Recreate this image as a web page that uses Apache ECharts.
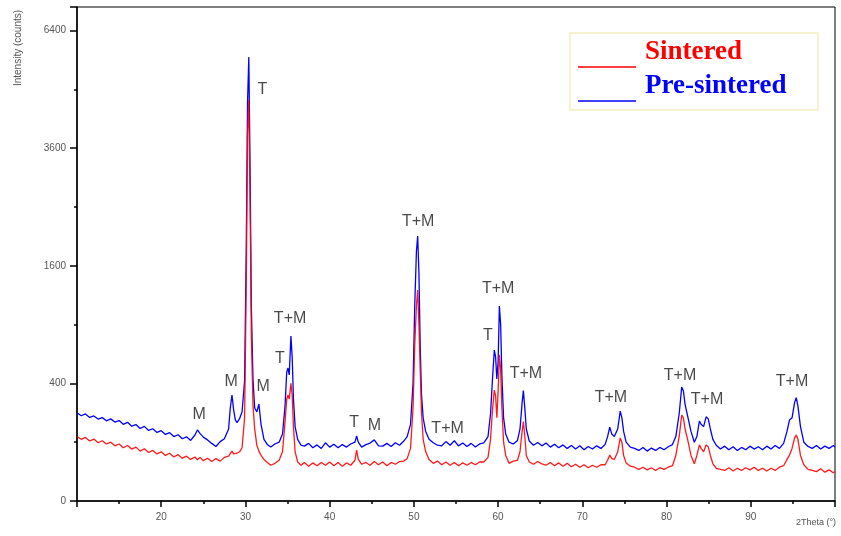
<!DOCTYPE html>
<html>
<head>
<meta charset="utf-8">
<script src="https://cdn.jsdelivr.net/npm/echarts@6/dist/echarts.min.js"></script>
<style>
  html, body { margin: 0; padding: 0; background: #fff; }
  #xrd { width: 841px; height: 536px; }
</style>
</head>
<body>
<div id="xrd"></div>
<script>
// 2theta positions (deg)
var twoTheta = [
    10, 10.5, 11, 11.5, 12, 12.5, 13, 13.5, 14, 14.5,
    15, 15.5, 16, 16.5, 17, 17.5, 18, 18.5, 19, 19.5,
    20, 20.5, 21, 21.5, 22, 22.5, 23, 23.5, 24, 24.3,
    24.6, 25, 25.5, 26, 26.5, 27, 27.5, 28, 28.2, 28.4,
    28.6, 28.8, 29, 29.3, 29.6, 29.9, 30.1, 30.25, 30.4, 30.55,
    30.7, 30.9, 31.1, 31.35, 31.6, 31.85, 32.2, 32.6, 33, 33.5,
    34, 34.4, 34.7, 34.9, 35.05, 35.2, 35.4, 35.55, 35.7, 35.9,
    36.2, 36.6, 37, 37.5, 38, 38.5, 39, 39.5, 40, 40.5,
    41, 41.5, 42, 42.5, 43, 43.2, 43.4, 43.8, 44.3, 44.8,
    45.3, 45.8, 46.3, 46.8, 47.3, 47.8, 48.3, 48.8, 49.2, 49.6,
    49.9, 50.1, 50.3, 50.45, 50.6, 50.75, 50.9, 51.1, 51.4, 51.8,
    52.3, 52.8, 53.3, 53.8, 54.3, 54.8, 55.3, 55.8, 56.3, 56.8,
    57.3, 57.8, 58.3, 58.8, 59.1, 59.35, 59.55, 59.7, 59.85, 60.0,
    60.15, 60.3, 60.45, 60.65, 60.9, 61.3, 61.8, 62.3, 62.6, 62.85,
    63.0, 63.15, 63.35, 63.7, 64.2, 64.7, 65.2, 65.7, 66.2, 66.7,
    67.2, 67.7, 68.2, 68.7, 69.2, 69.7, 70.2, 70.7, 71.2, 71.7,
    72.2, 72.7, 73.0, 73.25, 73.5, 73.8, 74.2, 74.5, 74.7, 74.9,
    75.2, 75.7, 76.2, 76.7, 77.2, 77.7, 78.2, 78.7, 79.2, 79.7,
    80.2, 80.7, 81.1, 81.5, 81.8, 82.0, 82.2, 82.5, 82.9, 83.3,
    83.6, 83.9, 84.1, 84.4, 84.7, 84.95, 85.2, 85.5, 85.9, 86.4,
    86.9, 87.4, 87.9, 88.4, 88.9, 89.4, 89.9, 90.4, 90.9, 91.4,
    91.9, 92.4, 92.9, 93.4, 93.9, 94.3, 94.6, 94.9, 95.2, 95.4,
    95.6, 95.9, 96.3, 96.8, 97.3, 97.8, 98.3, 98.8, 99.3, 99.8,
    100
];

// intensity (counts), pre-sintered
var preSintered = [
    225, 210, 219, 202, 209, 194, 201, 186, 195, 180,
    187, 170, 179, 162, 169, 152, 161, 144, 151, 136,
    143, 128, 135, 120, 127, 112, 119, 106, 126, 146,
    132, 118, 108, 96, 86, 102, 112, 150, 250, 325,
    240, 190, 178, 196, 230, 420, 1900, 4600, 5700, 3200,
    1100, 420, 250, 230, 272, 170, 110, 92, 84, 94,
    100, 130, 260, 480, 511, 460, 787, 600, 300, 160,
    110, 90, 87, 96, 82, 91, 80, 98, 84, 93,
    82, 92, 84, 94, 100, 122, 100, 84, 92, 97,
    108, 88, 87, 96, 86, 98, 90, 104, 120, 170,
    400, 1100, 1800, 2031, 1500, 700, 330, 200, 140, 110,
    98, 90, 88, 102, 90, 105, 88, 97, 86, 96,
    84, 94, 98, 120, 220, 450, 659, 600, 430, 560,
    1100, 900, 450, 200, 130, 100, 94, 106, 150, 280,
    352, 260, 150, 104, 90, 99, 88, 97, 84, 93,
    82, 91, 80, 89, 78, 88, 76, 86, 78, 88,
    80, 92, 120, 158, 130, 120, 150, 234, 200, 140,
    100, 84, 80, 74, 83, 72, 81, 74, 83, 76,
    85, 92, 120, 220, 376, 350, 270, 210, 140, 100,
    120, 185, 170, 160, 205, 195, 150, 110, 90, 78,
    87, 76, 85, 74, 83, 76, 87, 78, 85, 76,
    87, 78, 89, 80, 96, 140, 190, 200, 280, 309,
    260, 160, 100, 86, 80, 89, 78, 87, 80, 89,
    84
];

// intensity (counts), sintered
var sintered = [
    120, 110, 117, 104, 111, 98, 105, 94, 100, 88,
    94, 82, 89, 78, 84, 72, 79, 68, 74, 64,
    70, 60, 66, 56, 62, 53, 58, 50, 56, 49,
    55, 47, 53, 45, 52, 46, 55, 58, 62, 72,
    64, 60, 66, 70, 82, 200, 1400, 3900, 4650, 2600,
    800, 260, 150, 90, 72, 60, 50, 43, 37, 41,
    48, 70, 180, 300, 325, 300, 400, 320, 160, 70,
    44, 37, 43, 35, 42, 36, 43, 37, 44, 36,
    43, 35, 42, 37, 48, 75, 50, 39, 43, 37,
    45, 38, 44, 36, 43, 39, 45, 46, 52, 80,
    250, 700, 1100, 1288, 900, 500, 230, 110, 70, 50,
    41, 46, 38, 44, 37, 43, 36, 42, 37, 43,
    38, 44, 44, 55, 110, 250, 356, 320, 200, 350,
    617, 500, 250, 100, 60, 41, 46, 48, 70, 140,
    182, 130, 60, 44, 39, 45, 40, 37, 43, 36,
    42, 35, 41, 34, 39, 33, 38, 32, 37, 33,
    38, 38, 48, 61, 52, 50, 70, 115, 100, 60,
    42, 35, 33, 29, 33, 28, 32, 27, 32, 29,
    33, 36, 60, 120, 214, 200, 150, 110, 60, 40,
    60, 91, 80, 70, 91, 85, 60, 40, 31, 29,
    27, 32, 26, 31, 27, 32, 28, 33, 27, 31,
    26, 31, 27, 33, 36, 50, 61, 80, 115, 126,
    110, 60, 38, 29, 27, 25, 30, 24, 28, 23,
    25
];

// phase labels: where they sit and what they say
var phaseTheta = [24.5, 28.3, 32.1, 32.0, 34.1, 35.3, 42.9, 45.3, 50.5, 54.0, 58.8, 60.0, 63.3, 73.4, 81.6, 84.8, 94.9];
var phaseCounts = [214, 410, 376, 4886, 583, 958, 180, 163, 2251, 150, 787, 1300, 467, 307, 452, 295, 410];
var phaseText = ['M', 'M', 'M', 'T', 'T', 'T+M', 'T', 'M', 'T+M', 'T+M', 'T', 'T+M', 'T+M', 'T+M', 'T+M', 'T+M', 'T+M'];

var yTicks = [0, 400, 1600, 3600, 6400];

// the y axis is square-root scaled
function toAxis(count) { return Math.sqrt(count); }

var chart = echarts.init(document.getElementById('xrd'));

var preData = twoTheta.map(function (t, i) { return [t, toAxis(preSintered[i])]; });
var sinData = twoTheta.map(function (t, i) { return [t, toAxis(sintered[i])]; });
var labelData = phaseTheta.map(function (t, i) { return [t, toAxis(phaseCounts[i]), phaseText[i]]; });

var option = {
    animation: false,
    grid: {
        left: 77, right: 6, top: 7, bottom: 35,
        show: true, borderColor: '#000', borderWidth: 1
    },
    xAxis: {
        type: 'value',
        min: 10, max: 100, interval: 10,
        axisLine: { lineStyle: { color: '#000', width: 1.5 } },
        axisTick: { length: 6, lineStyle: { color: '#000', width: 1.5 } },
        minorTick: { show: true, splitNumber: 2, length: 3, lineStyle: { color: '#000', width: 1.5 } },
        splitLine: { show: false },
        axisLabel: {
            margin: 11, fontSize: 10, color: '#555', fontFamily: 'Liberation Sans',
            formatter: function (v) { return (v === 10 || v === 100) ? '' : String(v); }
        }
    },
    yAxis: {
        type: 'value',
        min: 0, max: 84, interval: 20,
        axisLine: { lineStyle: { color: '#000', width: 1.5 } },
        axisTick: { length: 7, lineStyle: { color: '#000', width: 1.5 } },
        minorTick: { show: true, splitNumber: 2, length: 3, lineStyle: { color: '#000', width: 1.5 } },
        splitLine: { show: false },
        axisLabel: {
            margin: 11, fontSize: 10, color: '#555', fontFamily: 'Liberation Sans',
            formatter: function (v) {
                var c = Math.round(v * v);
                return yTicks.indexOf(c) >= 0 ? String(c) : '';
            }
        }
    },
    series: [
        {
            name: 'Pre-sintered', type: 'line', data: preData,
            showSymbol: false, symbol: 'none',
            lineStyle: { color: '#0000ff', width: 1.3 }
        },
        {
            name: 'Sintered', type: 'line', data: sinData,
            showSymbol: false, symbol: 'none',
            lineStyle: { color: '#ff0000', width: 1.3, opacity: 0.9 }
        },
        {
            type: 'scatter', data: labelData, symbolSize: 1,
            itemStyle: { color: 'rgba(0,0,0,0)' },
            label: {
                show: true, position: 'inside',
                fontSize: 16, color: '#1a1a1a', fontFamily: 'Liberation Sans',
                formatter: function (p) { return p.data[2]; }
            },
            z: 5
        }
    ],
    graphic: [
        {
            type: 'text', x: 18, y: 48, rotation: Math.PI / 2,
            style: {
                text: 'Intensity (counts)', fill: '#555', font: '10px "Liberation Sans"',
                textAlign: 'center', textVerticalAlign: 'middle'
            }
        },
        {
            type: 'text', left: 796, top: 518,
            style: { text: '2Theta (\u00b0)', fill: '#555', font: '9px "Liberation Sans"' }
        },
        {
            type: 'rect', shape: { x: 570, y: 33, width: 248, height: 77 },
            style: { fill: '#fff', stroke: '#f3eebe', lineWidth: 1.5 }
        },
        {
            type: 'line', shape: { x1: 578, y1: 67, x2: 636, y2: 67 },
            style: { stroke: '#ff0000', lineWidth: 1.5 }
        },
        {
            type: 'line', shape: { x1: 578, y1: 101, x2: 636, y2: 101 },
            style: { stroke: '#0000ff', lineWidth: 1.5 }
        },
        {
            type: 'text', x: 645, y: 52,
            style: {
                text: 'Sintered', fill: '#ff0000', font: 'bold 27px "Liberation Serif"',
                textVerticalAlign: 'middle'
            }
        },
        {
            type: 'text', x: 645, y: 86,
            style: {
                text: 'Pre-sintered', fill: '#0000ff', font: 'bold 27px "Liberation Serif"',
                textVerticalAlign: 'middle'
            }
        }
    ]
};

option && chart.setOption(option);
</script>
</body>
</html>
